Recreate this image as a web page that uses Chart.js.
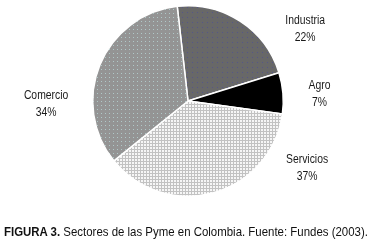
<!DOCTYPE html>
<html>
<head>
<meta charset="utf-8">
<script src="https://cdn.jsdelivr.net/npm/chart.js@4/dist/chart.umd.min.js"></script>
<style>
  body { margin: 0; background: #fff; }
  #wrap { position: relative; width: 382px; height: 244px; }
  #caption {
    position: absolute; left: 4px; top: 224px;
    font-family: "Liberation Sans", Arial, sans-serif;
    font-size: 13px; color: #111; white-space: nowrap;
    transform: scaleX(0.88); transform-origin: 0 0;
  }
  #caption b { font-weight: bold; }
</style>
</head>
<body>
<div id="wrap">
  <canvas id="pieCanvas" width="382" height="244"></canvas>
  <div id="caption"><b>FIGURA 3.</b> Sectores de las Pyme en Colombia. Fuente: Fundes (2003).</div>
</div>
<script>
const sectores = ["Industria", "Agro", "Servicios", "Comercio"];
const porcentajes = [22, 7, 37, 34];

// petits motifs pointillés comme dans la figure imprimée
const makePattern = (size, base, dot, cells) => {
  const c = document.createElement("canvas");
  c.width = size;
  c.height = size;
  const g = c.getContext("2d");
  g.fillStyle = base;
  g.fillRect(0, 0, size, size);
  g.fillStyle = dot;
  cells.forEach(([x, y, w, h]) => g.fillRect(x, y, w, h));
  return g.createPattern(c, "repeat");
};

const ctx = document.getElementById("pieCanvas").getContext("2d");
const fills = [
  makePattern(5, "#686868", "#55558a", [[2, 2, 1, 1]]),
  "#000000",
  makePattern(3, "#c2c2c2", "#f6f6f6", [[0, 0, 2, 2]]),
  makePattern(4, "#949494", "#b0c8c8", [[1, 1, 1, 1]]),
];

// position des étiquettes, relative au centre et au rayon du camembert
const labelOffsets = [
  [1.23, -0.76],
  [1.38, -0.07],
  [1.25, 0.70],
  [-1.49, 0.03],
];

const outsideLabels = {
  id: "outsideLabels",
  afterDatasetsDraw(chart) {
    const arc = chart.getDatasetMeta(0).data[0];
    if (!arc) return;
    const { x, y, outerRadius } = arc;
    const c = chart.ctx;
    c.save();
    c.font = '12.5px "Liberation Sans", Arial, sans-serif';
    c.fillStyle = "#1a1a1a";
    c.textAlign = "center";
    c.textBaseline = "middle";
    chart.data.labels.forEach((label, i) => {
      const [fx, fy] = labelOffsets[i];
      const cx = x + fx * outerRadius;
      const cy = y + fy * outerRadius;
      c.save();
      c.translate(cx, cy);
      c.scale(0.83, 1);
      c.fillText(label, 0, -8.5);
      c.fillText(chart.data.datasets[0].data[i] + "%", 0, 8.5);
      c.restore();
    });
    c.restore();
  },
};

const pieChart = new Chart(ctx, {
  type: "pie",
  data: {
    labels: sectores,
    datasets: [
      {
        data: porcentajes,
        backgroundColor: fills,
        borderColor: "#ffffff",
        borderWidth: 1.5,
      },
    ],
  },
  options: {
    responsive: false,
    animation: false,
    rotation: -6.5,
    layout: {
      padding: { left: 92, right: 98, top: 5, bottom: 47 },
    },
    plugins: {
      legend: { display: false },
      tooltip: { enabled: false },
    },
  },
  plugins: [outsideLabels],
});
</script>
</body>
</html>
